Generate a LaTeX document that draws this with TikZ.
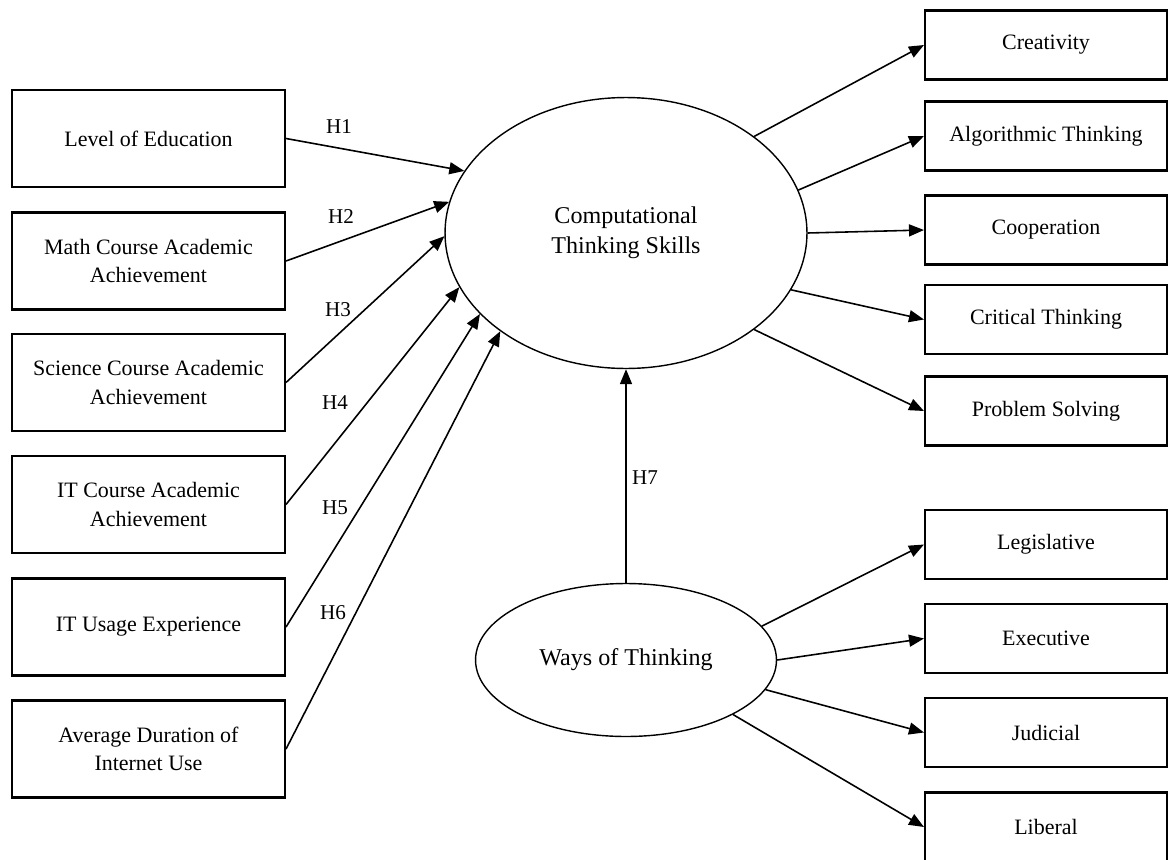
\documentclass[tikz,border=0pt]{standalone}
\usepackage{fontspec}
\setmainfont{Liberation Serif}
\usetikzlibrary{shapes.geometric,arrows.meta}

\tikzset{
	varbox/.style={draw,line width=1.2pt,minimum width=5.46cm,minimum height=1.94cm,inner sep=0pt,align=center,font=\fontsize{12.5}{16}\selectfont},
	dimbox/.style={draw,line width=1.2pt,minimum width=4.84cm,minimum height=1.38cm,inner sep=0pt,font=\fontsize{12.5}{16}\selectfont},
	latent/.style={draw,ellipse,line width=0.8pt,inner sep=0pt,align=center,font=\fontsize{13.7}{17}\selectfont},
	hyp/.style={font=\fontsize{12}{14}\selectfont},
	link/.style={line width=0.9pt,-{Triangle[length=0.3cm,width=0.24cm]}}
}

\begin{document}
\begin{tikzpicture}[x=0.02cm,y=-0.02cm]
			\useasboundingbox (0,0) rectangle (1169,859);
			%Predictors
			\node[varbox] (edu) at (148.5,138.5) {Level of Education};
			\node[varbox] (math) at (148.5,261) {Math Course Academic\\Achievement};
			\node[varbox] (sci) at (148.5,382.5) {Science Course Academic\\Achievement};
			\node[varbox] (itc) at (148.5,504.5) {IT Course Academic\\Achievement};
			\node[varbox] (itu) at (148.5,627) {IT Usage Experience};
			\node[varbox] (inet) at (148.5,749) {Average Duration of\\Internet Use};
			%Latent variables
			\node[latent,minimum width=7.24cm,minimum height=5.42cm] (cts) at (626,233) {Computational\\Thinking Skills};
			\node[latent,minimum width=6.02cm,minimum height=3.06cm] (wot) at (626,660) {Ways of Thinking};
			%Dimensions
			\node[dimbox] (crea) at (1046,45) {Creativity};
			\node[dimbox] (algo) at (1046,136) {Algorithmic Thinking};
			\node[dimbox] (coop) at (1046,230) {Cooperation};
			\node[dimbox] (crit) at (1046,319.5) {Critical Thinking};
			\node[dimbox] (prob) at (1046,411) {Problem Solving};
			\node[dimbox] (leg) at (1046,544.5) {Legislative};
			\node[dimbox] (exe) at (1046,638.5) {Executive};
			\node[dimbox] (jud) at (1046,732.5) {Judicial};
			\node[dimbox] (lib) at (1046,827) {Liberal};
			%Hypotheses
			\draw[link] (edu.east) -- (cts.159.5);
			\draw[link] (math.east) -- (cts.170.5);
			\draw[link] (sci.east) -- (cts.181);
			\draw[link] (itc.east) -- (cts.198.5);
			\draw[link] (itu.east) -- (cts.209.5);
			\draw[link] (inet.east) -- (cts.218);
			\draw[link] (wot.north) -- (cts.south);
			\node[hyp] (h1) at (339,127) {H1};
			\node[hyp] (h2) at (341,217) {H2};
			\node[hyp] (h3) at (338,310) {H3};
			\node[hyp] (h4) at (335,403) {H4};
			\node[hyp] (h5) at (335,508) {H5};
			\node[hyp] (h6) at (333,613) {H6};
			\node[hyp] (h7) at (645,478) {H7};
			%Loadings
			\draw[link] (cts.37) -- (crea.west);
			\draw[link] (cts.14) -- (algo.west);
			\draw[link] (cts.0) -- (coop.west);
			\draw[link] (cts.-19) -- (crit.west);
			\draw[link] (cts.-37) -- (prob.west);
			\draw[link] (wot.14) -- (leg.west);
			\draw[link] (wot.0) -- (exe.west);
			\draw[link] (wot.-12) -- (jud.west);
			\draw[link] (wot.-27) -- (lib.west);
		\end{tikzpicture}
\end{document}
